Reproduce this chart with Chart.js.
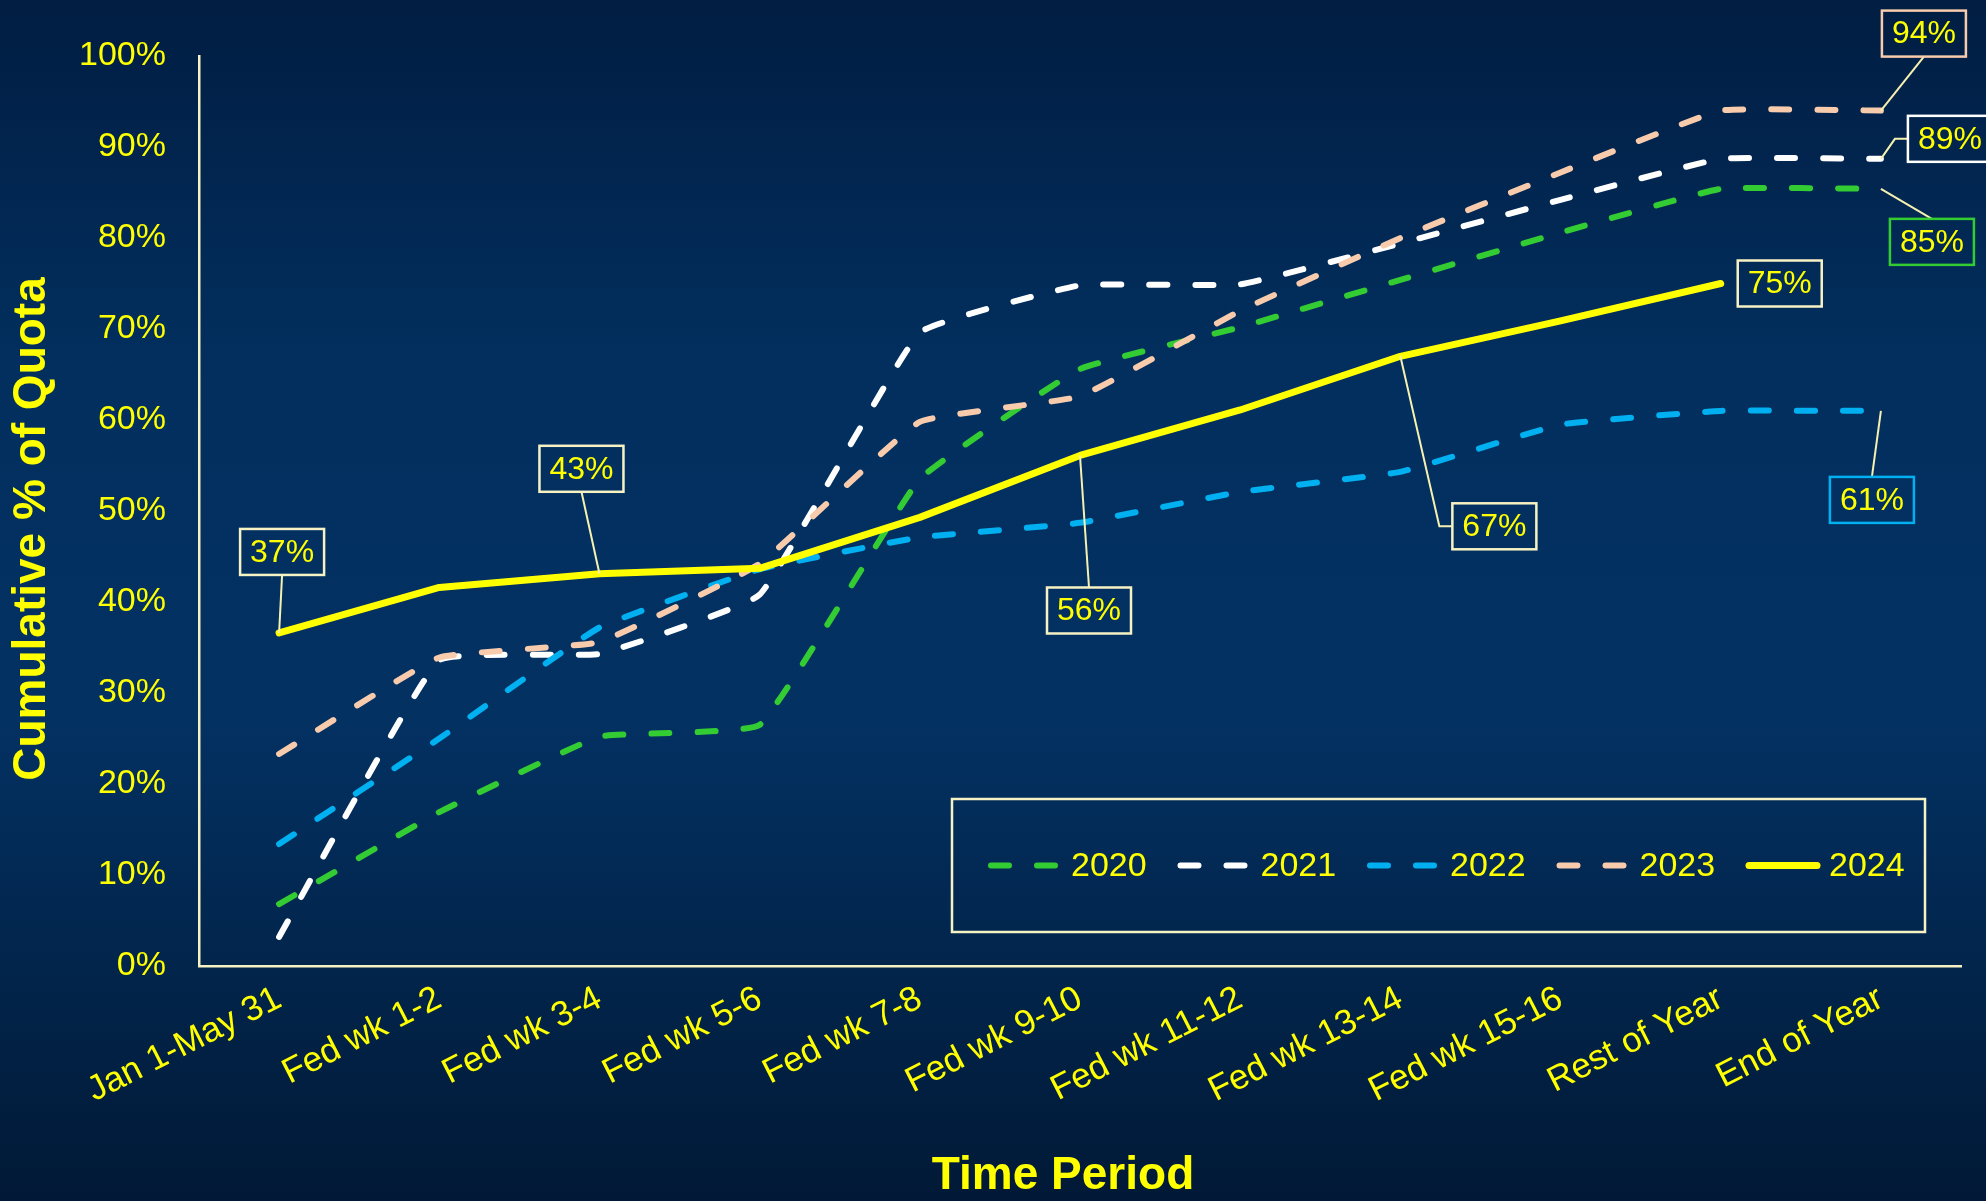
<!DOCTYPE html>
<html><head><meta charset="utf-8">
<script src="https://cdn.jsdelivr.net/npm/chart.js@4.4.1/dist/chart.umd.min.js"></script>
<style>html,body{margin:0;padding:0;background:#012a55;overflow:hidden}#wrap{width:1986px;height:1201px;position:relative}canvas{display:block}</style>
</head><body><div id="wrap"><canvas id="c" width="1986" height="1201" style="width:1986px;height:1201px"></canvas></div>
<script>
// ---- data ----
const categories = ['Jan 1-May 31','Fed wk 1-2','Fed wk 3-4','Fed wk 5-6','Fed wk 7-8','Fed wk 9-10','Fed wk 11-12','Fed wk 13-14','Fed wk 15-16','Rest of Year','End of Year'];
const seriesNames = ['2020','2021','2022','2023','2024'];
const values2020 = [6.8, 16.9, 25.2, 26.5, 53.5, 65.6, 70.2, 75.4, 80.6, 85.4, 85.4];
const values2021 = [3.2, 33.6, 34.3, 40.8, 69.6, 74.8, 74.9, 79.4, 84.2, 88.7, 88.7];
const values2022 = [13.4, 25.0, 37.2, 43.6, 47.1, 48.7, 52.1, 54.3, 59.5, 61.0, 61.0];
const values2023 = [23.3, 33.9, 35.6, 44.2, 59.8, 62.6, 72.0, 80.0, 87.2, 94.0, 94.0];
const values2024 = [36.6, 41.6, 43.1, 43.7, 49.3, 56.1, 61.1, 67.0, 70.9, 75.0, null];
const yTickValues = [0,10,20,30,40,50,60,70,80,90,100];

// ---- styles ----
const FONT = "'Liberation Sans', Arial, sans-serif";
const YELLOW = '#ffff00';
const CREAM = '#f7f2c4';
const seriesColors = ['#33cc33','#ffffff','#00b0f0','#f8cbad','#ffff00'];
const seriesValues = [values2020, values2021, values2022, values2023, values2024];
const DASH = [18, 28];

const datasets = seriesNames.map((name, k) => ({
  label: name,
  data: seriesValues[k],
  borderColor: seriesColors[k],
  backgroundColor: seriesColors[k],
  borderWidth: k === 4 ? 7 : 6,
  borderDash: k === 4 ? [] : DASH,
  borderCapStyle: 'round',
  borderJoinStyle: 'round',
  pointRadius: 0,
  pointHoverRadius: 0,
  tension: k === 4 ? 0 : 0.1,
  fill: false,
  order: 4 - k
}));

// callouts: which point, box offset from the point, leader style
const callouts = [
  {ds:4, i:0,  dx:3,   dy:-81, edge:'bottom', border:CREAM},
  {ds:4, i:2,  dx:-18, dy:-105,edge:'bottom', border:CREAM},
  {ds:4, i:5,  dx:9,   dy:155, edge:'top',    border:CREAM},
  {ds:4, i:7,  dx:94,  dy:170, edge:'elbow',  border:CREAM},
  {ds:4, i:9,  dx:59,  dy:0,   edge:'none',   border:CREAM},
  {ds:3, i:10, dx:43,  dy:-77, edge:'bottom', border:'#f8cbad'},
  {ds:1, i:10, dx:69,  dy:-20, edge:'elbow',  border:'#ffffff'},
  {ds:0, i:10, dx:51,  dy:53,  edge:'top',    border:'#33cc33'},
  {ds:2, i:10, dx:-9,  dy:89,  edge:'top',    border:'#00b0f0'}
];

const bgPlugin = {
  id: 'bg',
  beforeDraw(chart) {
    const {ctx, width, height} = chart;
    const g = ctx.createLinearGradient(0, 0, 0, height);
    g.addColorStop(0, '#011d42');
    g.addColorStop(0.3, '#022f5e');
    g.addColorStop(0.6, '#033162');
    g.addColorStop(1, '#011936');
    ctx.save(); ctx.fillStyle = g; ctx.fillRect(0, 0, width, height); ctx.restore();
  }
};

const decorPlugin = {
  id: 'decor',
  afterDraw(chart) {
    const {ctx, chartArea} = chart;
    ctx.save();
    // axis titles
    ctx.fillStyle = YELLOW;
    ctx.font = 'bold 46px ' + FONT;
    ctx.textAlign = 'center'; ctx.textBaseline = 'middle';
    ctx.fillText('Time Period', (chartArea.left + chartArea.right) / 2 - 17, 1176);
    ctx.save();
    ctx.translate(32, (chartArea.top + chartArea.bottom) / 2 + 18);
    ctx.rotate(-Math.PI / 2);
    ctx.fillText('Cumulative % of Quota', 0, 0);
    ctx.restore();

    // callouts
    const BW = 84, BH = 46;
    callouts.forEach(c => {
      const pt = chart.getDatasetMeta(c.ds).data[c.i];
      const v = chart.data.datasets[c.ds].data[c.i];
      const cx = pt.x + c.dx, cy = pt.y + c.dy;
      const bl = cx - BW / 2, bt = cy - BH / 2;
      ctx.strokeStyle = '#f6f1b0'; ctx.lineWidth = 2; ctx.setLineDash([]);
      ctx.beginPath();
      if (c.edge === 'bottom') { ctx.moveTo(pt.x, pt.y); ctx.lineTo(cx, bt + BH); }
      else if (c.edge === 'top') { ctx.moveTo(pt.x, pt.y); ctx.lineTo(cx, bt); }
      else if (c.edge === 'elbow') { ctx.moveTo(pt.x, pt.y); ctx.lineTo(bl - 13, cy); ctx.lineTo(bl, cy); }
      ctx.stroke();
      ctx.strokeStyle = c.border; ctx.lineWidth = 2.5;
      ctx.strokeRect(bl, bt, BW, BH);
      ctx.fillStyle = YELLOW;
      ctx.font = '32px ' + FONT;
      ctx.textAlign = 'center'; ctx.textBaseline = 'middle';
      ctx.fillText(Math.round(v) + '%', cx, cy + 1);
    });

    // legend
    const lw = 973, lh = 133;
    const lx = chartArea.right - 36 - lw, ly = chartArea.bottom - 34 - lh;
    ctx.strokeStyle = CREAM; ctx.lineWidth = 2.5; ctx.setLineDash([]);
    ctx.strokeRect(lx, ly, lw, lh);
    const my = ly + lh / 2;
    chart.data.datasets.forEach((d, k) => {
      const x0 = lx + 36 + k * 189.5;
      ctx.strokeStyle = d.borderColor; ctx.lineWidth = d.borderWidth;
      ctx.lineCap = 'round';
      ctx.setLineDash(d.borderDash || []);
      ctx.beginPath(); ctx.moveTo(x0 + 3, my); ctx.lineTo(x0 + 71, my); ctx.stroke();
      ctx.setLineDash([]);
      ctx.fillStyle = YELLOW; ctx.font = '34px ' + FONT;
      ctx.textAlign = 'left'; ctx.textBaseline = 'middle';
      ctx.fillText(d.label, x0 + 83, my + 1);
    });
    ctx.restore();
  }
};

new Chart(document.getElementById('c'), {
  type: 'line',
  data: { labels: categories, datasets },
  plugins: [bgPlugin, decorPlugin],
  options: {
    responsive: false,
    devicePixelRatio: 1,
    animation: false,
    layout: { padding: { top: 56, right: 25, left: 0, bottom: 0 } },
    plugins: { legend: { display: false }, tooltip: { enabled: false } },
    scales: {
      x: {
        type: 'category',
        offset: true,
        grid: { display: false, drawTicks: false },
        border: { display: true, color: CREAM, width: 2.5 },
        ticks: { color: YELLOW, font: { family: FONT, size: 35 }, maxRotation: 27, minRotation: 27, autoSkip: false, padding: 12 },
        title: { display: false },
        afterFit(s) { s.height = 235; }
      },
      y: {
        min: 0, max: 100,
        afterBuildTicks(s) { s.ticks = yTickValues.map(v => ({ value: v })); },
        grid: { display: false, drawTicks: false },
        border: { display: true, color: CREAM, width: 2.5 },
        ticks: { color: YELLOW, font: { family: FONT, size: 34 }, padding: 33, callback: v => v + '%' },
        afterFit(s) { s.width = 199; }
      }
    }
  }
});
</script></body></html>
